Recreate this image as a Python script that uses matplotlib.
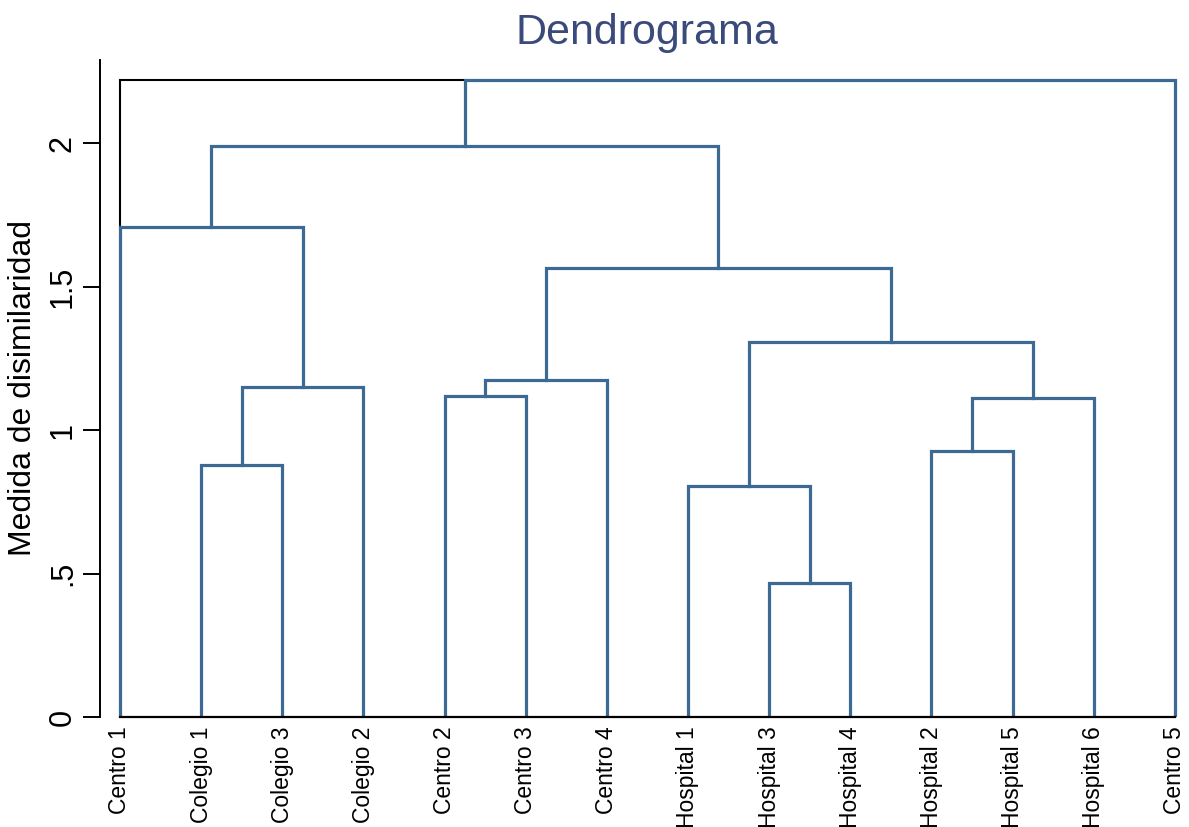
import matplotlib
matplotlib.use("Agg")
import matplotlib.pyplot as plt

plt.rcParams['font.family'] = ['Liberation Sans', 'DejaVu Sans']

# Leaves in dendrogram order
labels = ["Centro 1", "Colegio 1", "Colegio 3", "Colegio 2", "Centro 2", "Centro 3",
          "Centro 4", "Hospital 1", "Hospital 3", "Hospital 4", "Hospital 2",
          "Hospital 5", "Hospital 6", "Centro 5"]

# Merges (linkage style): left id, right id, height; new cluster ids start at len(labels)
merge_left = [1, 8, 7, 10, 4, 17, 14, 18, 16, 21, 0, 24, 25]
merge_right = [2, 9, 15, 11, 5, 12, 3, 6, 19, 22, 20, 23, 13]
merge_height = [0.878, 0.467, 0.805, 0.927, 1.118, 1.111, 1.150, 1.174, 1.307,
                1.564, 1.707, 1.990, 2.219]

yticks = [0, 0.5, 1, 1.5, 2]
yticklabels = ["0", ".5", "1", "1.5", "2"]

title = "Dendrograma"
ylabel = "Medida de disimilaridad"

line_color = "#3d6a94"
title_color = "#3a4a7a"

fig = plt.figure(figsize=(11.89, 8.27), dpi=100)
ax = fig.add_axes([100/1189, 1-717/827, (1183-100)/1189, (717-60)/827])

n = len(labels)
xpos = {i: float(i) for i in range(n)}
hpos = {i: 0.0 for i in range(n)}
for k, (a, b, h) in enumerate(zip(merge_left, merge_right, merge_height)):
    cid = n + k
    xa, xb = xpos[a], xpos[b]
    ax.plot([xa, xa, xb, xb], [hpos[a], h, h, hpos[b]], color=line_color,
            lw=2.3, solid_joinstyle='miter', zorder=3)
    xpos[cid] = (xa + xb) / 2
    hpos[cid] = h

# black frame-like segment from first leaf up to the root level
root_h = merge_height[-1]
first_h = merge_height[merge_left.index(0)]
root_left_x = xpos[merge_left[-1]]
ax.plot([0, 0, root_left_x], [first_h, root_h, root_h], color="black", lw=1.5,
        solid_joinstyle='miter', zorder=2)

ax.set_xlim(-0.246, 13.1)
ax.set_ylim(0, 2.29)

for s in ['top', 'right']:
    ax.spines[s].set_visible(False)
ax.spines['left'].set_linewidth(1.4)
ax.spines['bottom'].set_linewidth(1.6)
ax.spines['bottom'].set_bounds(0, n - 1)
ax.spines['bottom'].set_zorder(4)

ax.set_xticks(range(n))
ax.set_xticklabels(labels, rotation=90, fontsize=16.5)
ax.tick_params(axis='x', length=0, pad=7)

ax.set_yticks(yticks)
ax.set_yticklabels(yticklabels, rotation=90, va='center', fontsize=22)
ax.tick_params(axis='y', length=12, width=1.4, pad=4)

ax.set_ylabel(ylabel, fontsize=23)
ax.yaxis.set_label_coords(-0.057, 0.5)

fig.text(647/1189, 1-33/827, title, ha='center', va='center', fontsize=31,
         color=title_color)

fig.savefig("out.png", dpi=100)
